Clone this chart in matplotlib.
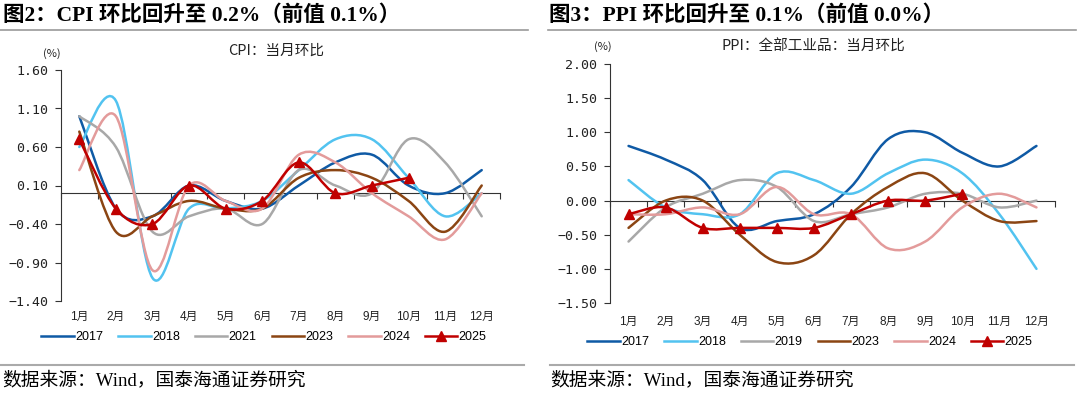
import matplotlib
matplotlib.use("Agg")
import matplotlib.pyplot as plt
import numpy as np
from matplotlib.path import Path
from matplotlib.patches import PathPatch
from matplotlib.lines import Line2D
import matplotlib.transforms as mtransforms

plt.rcParams["font.family"] = ["Liberation Sans", "Noto Sans CJK SC", "DejaVu Sans"]

months = ["1月", "2月", "3月", "4月", "5月", "6月", "7月", "8月", "9月", "10月", "11月", "12月"]

# CPI month-on-month (%)
cpi_years = ["2017", "2018", "2021", "2023", "2024", "2025"]
cpi_2017 = [1.0, -0.2, -0.3, 0.1, -0.1, -0.2, 0.1, 0.4, 0.5, 0.1, 0.0, 0.3]
cpi_2018 = [0.6, 1.2, -1.1, -0.2, -0.2, -0.1, 0.3, 0.7, 0.7, 0.2, -0.3, 0.0]
cpi_2021 = [1.0, 0.6, -0.5, -0.3, -0.2, -0.4, 0.3, 0.1, 0.0, 0.7, 0.4, -0.3]
cpi_2023 = [0.8, -0.5, -0.3, -0.1, -0.2, -0.2, 0.2, 0.3, 0.2, -0.1, -0.5, 0.1]
cpi_2024 = [0.3, 1.0, -1.0, 0.1, -0.1, -0.2, 0.5, 0.4, 0.0, -0.3, -0.6, 0.0]
cpi_2025 = [0.7, -0.2, -0.4, 0.1, -0.2, -0.1, 0.4, 0.0, 0.1, 0.2]

# PPI (all industrial products) month-on-month (%)
ppi_years = ["2017", "2018", "2019", "2023", "2024", "2025"]
ppi_2017 = [0.8, 0.6, 0.3, -0.4, -0.3, -0.2, 0.2, 0.9, 1.0, 0.7, 0.5, 0.8]
ppi_2018 = [0.3, -0.1, -0.2, -0.2, 0.4, 0.3, 0.1, 0.4, 0.6, 0.4, -0.2, -1.0]
ppi_2019 = [-0.6, -0.1, 0.1, 0.3, 0.2, -0.3, -0.2, -0.1, 0.1, 0.1, -0.1, 0.0]
ppi_2023 = [-0.4, 0.0, 0.0, -0.5, -0.9, -0.8, -0.2, 0.2, 0.4, 0.0, -0.3, -0.3]
ppi_2024 = [-0.2, -0.2, -0.1, -0.2, 0.2, -0.2, -0.2, -0.7, -0.6, -0.1, 0.1, -0.1]
ppi_2025 = [-0.2, -0.1, -0.4, -0.4, -0.4, -0.4, -0.2, 0.0, 0.0, 0.1]

colors = ["#0F5AA5", "#52C3F0", "#A8A8A8", "#8B4513", "#E39B9B", "#C00000"]


def smooth_path(y):
    # Excel-style smoothed line drawn as cubic Bezier segments
    x = np.arange(len(y), dtype=float)
    y = np.asarray(y, dtype=float)
    pts = np.column_stack([x, y])
    n = len(pts)
    verts = [pts[0]]
    codes = [Path.MOVETO]
    for i in range(n - 1):
        p0 = pts[i - 1] if i > 0 else pts[i]
        p1 = pts[i]
        p2 = pts[i + 1]
        p3 = pts[i + 2] if i + 2 < n else pts[i + 1]
        c1 = p1 + (p2 - p0) / 6.0
        c2 = p2 - (p3 - p1) / 6.0
        verts += [c1, c2, p2]
        codes += [Path.CURVE4] * 3
    return Path(verts, codes)


def draw_panel(ax, series, years, ylim, yticks, label_pad):
    for i, (vals, yr) in enumerate(zip(series, years)):
        patch = PathPatch(smooth_path(vals), facecolor="none", edgecolor=colors[i],
                          lw=1.8, zorder=3 + i, capstyle="round", joinstyle="round")
        ax.add_patch(patch)
    last = series[-1]
    ax.plot(range(len(last)), last, ls="none", marker="^", ms=6.5,
            color=colors[-1], zorder=10)

    ax.set_xlim(-0.5, 11.5)
    ax.set_ylim(*ylim)
    ax.set_yticks(yticks)
    ax.set_yticklabels([f"{v:.2f}".replace("-", "−") for v in yticks], fontsize=9.5,
                       family=["DejaVu Sans Mono"], color="#222222")
    ax.spines["top"].set_visible(False)
    ax.spines["right"].set_visible(False)
    ax.spines["bottom"].set_position(("data", 0))
    ax.spines["left"].set_color("#333333")
    ax.spines["bottom"].set_color("#333333")
    ax.set_xticks(np.arange(-0.5, 12.0, 1.0))
    ax.set_xticklabels([])
    ax.tick_params(axis="x", direction="out", length=4, color="#333333")
    ax.tick_params(axis="y", direction="out", length=4, color="#333333", pad=5)

    trans = mtransforms.blended_transform_factory(ax.transData, ax.transAxes)
    for i, m in enumerate(months):
        ax.text(i, label_pad, m, transform=trans, ha="center", va="center",
                fontsize=8.5, color="#222222",
                family=["Liberation Sans", "Noto Sans CJK SC"])

    handles = []
    for i, yr in enumerate(years):
        if i == len(years) - 1:
            handles.append(Line2D([], [], color=colors[i], lw=1.8, marker="^", ms=6.5))
        else:
            handles.append(Line2D([], [], color=colors[i], lw=1.8))
    return handles


fig = plt.figure(figsize=(10.8, 3.96), dpi=100)

ax1 = fig.add_axes([61 / 1080, 95 / 396, 439 / 1080, 231 / 396])
h1 = draw_panel(ax1, [cpi_2017, cpi_2018, cpi_2021, cpi_2023, cpi_2024, cpi_2025],
                cpi_years, (-1.4, 1.6), [1.6, 1.1, 0.6, 0.1, -0.4, -0.9, -1.4], -0.07)
ax2 = fig.add_axes([610 / 1080, 93 / 396, 445 / 1080, 239 / 396])
h2 = draw_panel(ax2, [ppi_2017, ppi_2018, ppi_2019, ppi_2023, ppi_2024, ppi_2025],
                ppi_years, (-1.5, 2.0), [2.0, 1.5, 1.0, 0.5, 0.0, -0.5, -1.0, -1.5], -0.08)

leg_kw = dict(loc="center", ncol=6, frameon=False, fontsize=9, handlelength=2.6,
              handletextpad=0.1, columnspacing=1.2, bbox_transform=fig.transFigure)
fig.legend(h1, cpi_years, bbox_to_anchor=(264 / 1080, 1 - 337 / 396), **leg_kw)
fig.legend(h2, ppi_years, bbox_to_anchor=(810 / 1080, 1 - 342 / 396), **leg_kw)

# chart inner titles and units
cjk = ["Noto Sans CJK SC"]
fig.text(276 / 1080, 1 - 51 / 396, "CPI：当月环比", ha="center", va="center",
         fontsize=10.5, family=cjk, color="#222222")
fig.text(813 / 1080, 1 - 47 / 396, "PPI：全部工业品：当月环比", ha="center", va="center",
         fontsize=10.5, family=cjk, color="#222222")
fig.text(52 / 1080, 1 - 54 / 396, "(%)", ha="center", va="center", fontsize=8,
         family=cjk, color="#222222")
fig.text(603 / 1080, 1 - 47 / 396, "(%)", ha="center", va="center", fontsize=8,
         family=cjk, color="#222222")

# headline titles
serif = ["Liberation Serif", "Noto Sans CJK SC"]
fig.text(3 / 1080, 1 - 16 / 396, "图2：CPI 环比回升至 0.2%（前值 0.1%）", ha="left",
         va="center", fontsize=15.5, fontweight="bold", family=serif, color="black")
fig.text(549 / 1080, 1 - 16 / 396, "图3：PPI 环比回升至 0.1%（前值 0.0%）", ha="left",
         va="center", fontsize=15.5, fontweight="bold", family=serif, color="black")

# rules
for x0, x1 in [(0, 528), (548, 1076)]:
    fig.add_artist(Line2D([x0 / 1080, x1 / 1080], [1 - 30 / 396] * 2,
                          color="#9A9A9A", lw=1.2, transform=fig.transFigure))
for x0, x1 in [(0, 524), (550, 1074)]:
    fig.add_artist(Line2D([x0 / 1080, x1 / 1080], [1 - 365 / 396] * 2,
                          color="#AAAAAA", lw=1.5, transform=fig.transFigure))

fig.text(2 / 1080, 1 - 380 / 396, "数据来源：Wind，国泰海通证券研究", ha="left",
         va="center", fontsize=13.5, family=serif, color="black")
fig.text(550 / 1080, 1 - 380 / 396, "数据来源：Wind，国泰海通证券研究", ha="left",
         va="center", fontsize=13.5, family=serif, color="black")

fig.savefig("out.png", dpi=100)
